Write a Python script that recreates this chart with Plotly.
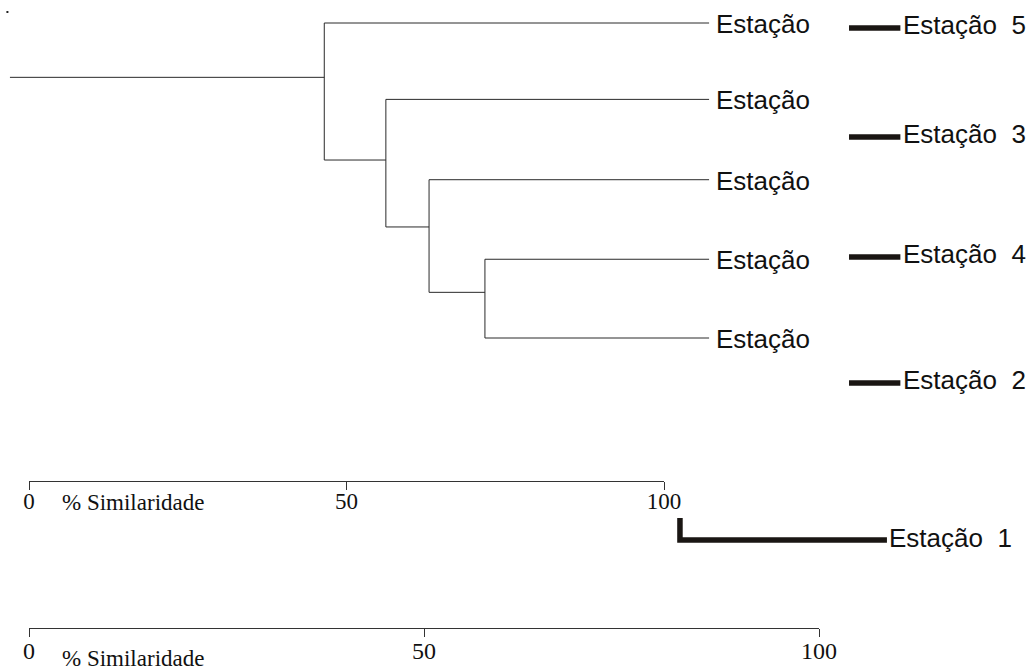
import plotly.graph_objects as go

# ---------------- data ----------------
# thin dendrogram (top scale, % similarity)
thin_labels = ["Estação", "Estação", "Estação", "Estação", "Estação"]
thin_leaf_pos = [0.0, 0.97, 1.99, 3.0, 4.0]
thin_leaf_end = 107.1
thin_root_start = -3.0
# merges: similarity, child A, child B, node position; children: ("L", i) leaf, ("N", j) node
merge_sim = [71.8, 63.0, 56.2, 46.5]
merge_a = [("L", 3), ("L", 2), ("L", 1), ("L", 0)]
merge_b = [("L", 4), ("N", 0), ("N", 1), ("N", 2)]
merge_pos = [3.42, 2.59, 1.74, 0.69]

# thick leaves (bottom scale, % similarity)
thick_labels = ["Estação  5", "Estação  3", "Estação  4", "Estação  2"]
thick_leaf_pos = [0.063, 1.448, 2.971, 4.571]
thick_stub_start = 103.8
thick_stub_end = 110.3
st1_label = "Estação  1"
st1_sim = 82.4
st1_top = 6.286
st1_pos = 6.565
st1_end = 108.6

scale_ticks = [0, 50, 100]
scale_ticklabels = ["0", "50", "100"]
scale_title = "% Similaridade"

# ---------------- layout constants ----------------
W, H = 1030, 672
X0 = 29             # px of 0 %
X100_TOP = 664      # px of 100 % (top scale)
X100_BOT = 819      # px of 100 % (bottom scale)
Y_LEAF0 = 23
LEAF_STEP = 78.75
TOP_AXIS_Y = 481
BOT_AXIS_Y = 628

k_top = (X100_TOP - X0) / 100
k_bot = (X100_BOT - X0) / 100

thin_col = "#2a2a2a"
thick_col = "#1a1613"
sans = "Liberation Sans, Arial, sans-serif"
serif = "Liberation Serif, Times New Roman, serif"

fig = go.Figure()

def cpos(c):
    return thin_leaf_pos[c[1]] if c[0] == "L" else merge_pos[c[1]]

def csim(c):
    return thin_leaf_end if c[0] == "L" else merge_sim[c[1]]

xs, ys = [], []
for s, a, b, p in zip(merge_sim, merge_a, merge_b, merge_pos):
    xs += [s, s, None]
    ys += [cpos(a), cpos(b), None]
    for c in (a, b):
        xs += [s, csim(c), None]
        ys += [cpos(c), cpos(c), None]
xs += [thin_root_start, merge_sim[-1], None]
ys += [merge_pos[-1], merge_pos[-1], None]

fig.add_trace(go.Scatter(x=xs, y=ys, mode="lines", line=dict(color=thin_col, width=1),
                         hoverinfo="skip", showlegend=False, xaxis="x", yaxis="y"))

# tiny dot top-left
fig.add_trace(go.Scatter(x=[-3.4], y=[-0.14], mode="markers",
                         marker=dict(symbol="square", size=2, color="#222"),
                         hoverinfo="skip", showlegend=False, xaxis="x", yaxis="y"))

# thick stubs
txs, tys = [], []
for p in thick_leaf_pos:
    txs += [thick_stub_start, thick_stub_end, None]
    tys += [p, p, None]
fig.add_trace(go.Scatter(x=txs, y=tys, mode="lines", line=dict(color=thick_col, width=5.5),
                         hoverinfo="skip", showlegend=False, xaxis="x2", yaxis="y"))
fig.add_trace(go.Scatter(x=[st1_sim, st1_sim, st1_end], y=[st1_top, st1_pos, st1_pos], mode="lines",
                         line=dict(color=thick_col, width=5.5),
                         hoverinfo="skip", showlegend=False, xaxis="x2", yaxis="y"))

# invisible traces to attach scale axes
fig.add_trace(go.Scatter(x=[0, 100], y=[None, None], mode="lines", showlegend=False,
                         hoverinfo="skip", xaxis="x3", yaxis="y"))
fig.add_trace(go.Scatter(x=[0, 100], y=[None, None], mode="lines", showlegend=False,
                         hoverinfo="skip", xaxis="x4", yaxis="y"))

ann = []
for lab, p in zip(thin_labels, thin_leaf_pos):
    ann.append(dict(x=thin_leaf_end, y=p, xref="x", yref="y", text=lab, showarrow=False,
                    xanchor="left", yanchor="middle", xshift=5, yshift=-1,
                    font=dict(family=sans, size=26, color="#111")))
for lab, p in zip(thick_labels, thick_leaf_pos):
    ann.append(dict(x=thick_stub_end, y=p, xref="x2", yref="y", text=lab, showarrow=False,
                    xanchor="left", yanchor="middle", xshift=1, yshift=3,
                    font=dict(family=sans, size=26, color="#111")))
ann.append(dict(x=st1_end, y=st1_pos, xref="x2", yref="y", text=st1_label, showarrow=False,
                xanchor="left", yanchor="middle", xshift=0, yshift=2,
                font=dict(family=sans, size=26, color="#111")))
# scale titles
ann.append(dict(x=4.9, y=(TOP_AXIS_Y + 21 - Y_LEAF0) / LEAF_STEP, xref="x", yref="y", text=scale_title,
                showarrow=False, xanchor="left", yanchor="middle",
                font=dict(family=serif, size=23, color="#111")))
ann.append(dict(x=4.9, y=(BOT_AXIS_Y + 30 - Y_LEAF0) / LEAF_STEP, xref="x", yref="y", text=scale_title,
                showarrow=False, xanchor="left", yanchor="middle",
                font=dict(family=serif, size=23, color="#111")))

def scale_axis(fs, standoff):
    return dict(range=[0, 100], anchor="free", showline=True,
                linecolor="#333", linewidth=1, ticks="outside", ticklen=8, tickwidth=1,
                tickcolor="#333", tickvals=scale_ticks, ticktext=scale_ticklabels,
                tickfont=dict(family=serif, size=fs, color="#111"), showgrid=False,
                zeroline=False, side="bottom", fixedrange=True, ticklabelstandoff=standoff)

fig.update_layout(
    width=W, height=H, margin=dict(l=0, r=0, t=0, b=0, autoexpand=False),
    paper_bgcolor="white", plot_bgcolor="rgba(0,0,0,0)", showlegend=False,
    xaxis=dict(domain=[0, 1], range=[-X0 / k_top, (W - X0) / k_top], visible=False),
    xaxis2=dict(domain=[0, 1], range=[-X0 / k_bot, (W - X0) / k_bot], visible=False,
                overlaying="x", anchor="y"),
    xaxis3=dict(domain=[X0 / W, X100_TOP / W], position=(H - TOP_AXIS_Y) / H, **scale_axis(23, -9)),
    xaxis4=dict(domain=[X0 / W, X100_BOT / W], position=(H - BOT_AXIS_Y) / H, **scale_axis(24, -7)),
    yaxis=dict(domain=[0, 1], range=[(H - Y_LEAF0) / LEAF_STEP, -Y_LEAF0 / LEAF_STEP], visible=False),
    annotations=ann,
)

fig.write_html(
    "out.html",
    config={"displayModeBar": False, "staticPlot": True},
    post_script="document.body.style.margin='0';document.body.style.overflow='hidden';",
)
